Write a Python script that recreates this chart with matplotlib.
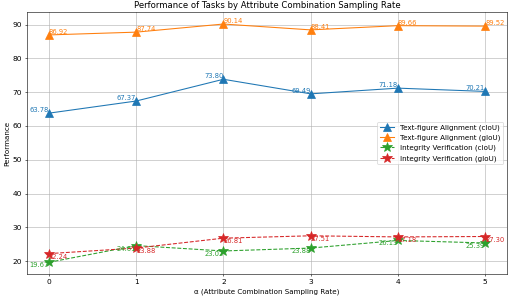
import numpy as np
import matplotlib.pyplot as plt

alpha = [0, 1, 2, 3, 4, 5]
tfa_ciou = [63.78, 67.37, 73.80, 69.49, 71.18, 70.21]
tfa_giou = [86.92, 87.74, 90.14, 88.41, 89.66, 89.52]
iv_ciou = [19.67, 24.61, 23.02, 23.88, 26.13, 25.39]
iv_giou = [22.24, 23.88, 26.81, 27.51, 27.18, 27.30]

fig, ax = plt.subplots(figsize=(10, 5.918), dpi=51.2)

ax.plot(alpha, tfa_ciou, marker='^', markersize=11, color='tab:blue', label='Text-figure Alignment (cIoU)')
ax.plot(alpha, tfa_giou, marker='^', markersize=11, color='tab:orange', label='Text-figure Alignment (gIoU)')
ax.plot(alpha, iv_ciou, marker='*', markersize=14, linestyle='--', color='tab:green', label='Integrity Verification (cIoU)')
ax.plot(alpha, iv_giou, marker='*', markersize=14, linestyle='--', color='tab:red', label='Integrity Verification (gIoU)')

# value labels
for x, y in zip(alpha, tfa_ciou):
    ax.text(x, y, f'{y:.2f}', ha='right', va='bottom', fontsize=9.5, color='tab:blue')
for x, y in zip(alpha, tfa_giou):
    ax.text(x, y, f'{y:.2f}', ha='left', va='bottom', fontsize=9.5, color='tab:orange')
for x, y in zip(alpha, iv_ciou):
    ax.text(x, y, f'{y:.2f}', ha='right', va='top', fontsize=9.5, color='tab:green')
for x, y in zip(alpha, iv_giou):
    ax.text(x, y, f'{y:.2f}', ha='left', va='top', fontsize=9.5, color='tab:red')

ax.set_xlabel('α (Attribute Combination Sampling Rate)', fontsize=10)
ax.set_ylabel('Performance', fontsize=10)
ax.set_title('Performance of Tasks by Attribute Combination Sampling Rate', fontsize=12)
ax.set_xticks(alpha)
ax.tick_params(labelsize=10.5)
ax.grid(True)
ax.legend(loc='center right', fontsize=10)

plt.subplots_adjust(left=0.053, right=0.99, top=0.96, bottom=0.095)
plt.savefig('out.png')
